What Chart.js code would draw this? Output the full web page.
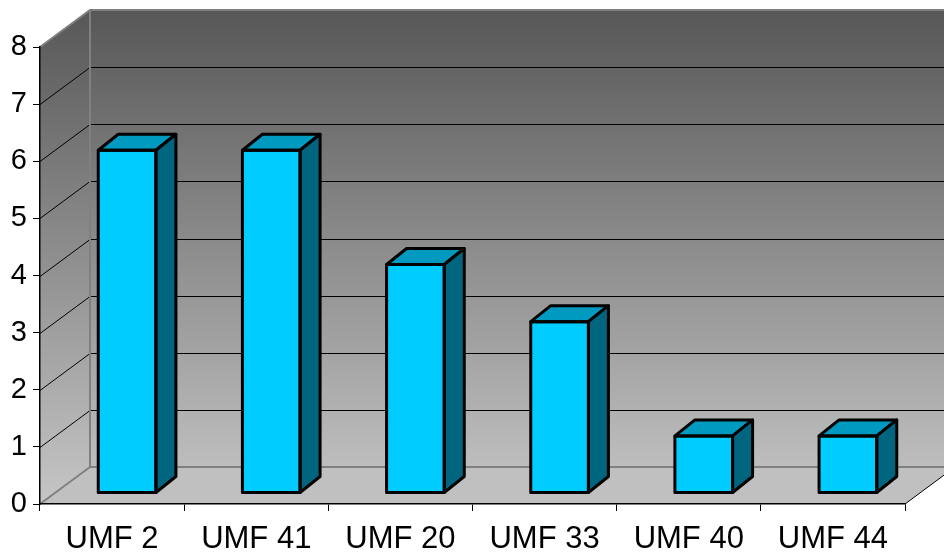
<!DOCTYPE html>
<html lang="en">
<head>
	<meta charset="utf-8">
	<title>UMF</title>
	<style>
body {
	margin: 0;
	background: #fff;
}
#chartWrapper {
	width: 944px;
	height: 555px;
}
	</style>
</head>
<body>

<div id="chartWrapper">
  <canvas id="myChart" width="944" height="555"></canvas>
</div>

<script src="https://cdn.jsdelivr.net/npm/chart.js"></script>
<script>
const categories = ['UMF 2', 'UMF 41', 'UMF 20', 'UMF 33', 'UMF 40', 'UMF 44'];
const counts = [6, 6, 4, 3, 1, 1];
const yMin = 0;
const yMax = 8;

// oblique 3d offsets (px)
const depth = {x: 50, y: -37};
const barFront = {x: 15, y: -11};
const barDepth = {x: 20, y: -16};

const walls = {
	id: 'walls',
	beforeDraw(chart) {
		const ctx = chart.ctx;
		const xs = chart.scales.x, ys = chart.scales.y;
		const L = xs.left, R = xs.right, W = chart.width;
		const y0 = ys.getPixelForValue(yMin), yTop = ys.getPixelForValue(yMax);
		const dx = depth.x, dy = depth.y;

		const grad = ctx.createLinearGradient(0, yTop + dy, 0, y0);
		grad.addColorStop(0, '#575757');
		grad.addColorStop(1, '#c6c6c6');

		ctx.save();
		// back wall
		ctx.fillStyle = grad;
		ctx.fillRect(L + dx, yTop + dy, W - L - dx, y0 - yTop);
		// left wall
		ctx.beginPath();
		ctx.moveTo(L, y0);
		ctx.lineTo(L, yTop);
		ctx.lineTo(L + dx, yTop + dy);
		ctx.lineTo(L + dx, y0 + dy);
		ctx.closePath();
		ctx.fill();
		// floor
		ctx.fillStyle = '#c0c0c0';
		ctx.beginPath();
		ctx.moveTo(L, y0);
		ctx.lineTo(R, y0);
		ctx.lineTo(R + dx, y0 + dy);
		ctx.lineTo(L + dx, y0 + dy);
		ctx.closePath();
		ctx.fill();

		// gridlines
		ctx.strokeStyle = '#000';
		ctx.lineWidth = 1;
		for (let v = yMin + 1; v < yMax; v++) {
			const y = Math.round(ys.getPixelForValue(v)) + 0.5;
			ctx.beginPath();
			ctx.moveTo(L, y);
			ctx.lineTo(L + dx, y + dy);
			ctx.lineTo(W, y + dy);
			ctx.stroke();
		}

		// wall edges
		ctx.strokeStyle = '#808080';
		ctx.lineWidth = 2;
		ctx.beginPath();
		ctx.moveTo(L, yTop);
		ctx.lineTo(L + dx, yTop + dy);
		ctx.lineTo(W, yTop + dy);
		ctx.moveTo(L + dx, yTop + dy);
		ctx.lineTo(L + dx, y0 + dy);
		ctx.lineTo(R + dx, y0 + dy);
		ctx.moveTo(L, y0);
		ctx.lineTo(L + dx, y0 + dy);
		ctx.stroke();

		ctx.strokeStyle = '#000';
		ctx.lineWidth = 1;
		ctx.beginPath();
		ctx.moveTo(R, y0);
		ctx.lineTo(R + dx, y0 + dy);
		ctx.stroke();
		ctx.restore();
	}
};

const bars3d = {
	id: 'bars3d',
	beforeDatasetDraw(chart) {
		chart.ctx.save();
		chart.ctx.translate(barFront.x, barFront.y);
	},
	afterDatasetDraw(chart, args) {
		const ctx = chart.ctx;
		ctx.lineWidth = 3;
		ctx.lineJoin = 'round';
		ctx.strokeStyle = '#000';
		for (let bar of args.meta.data) {
			const p = bar.getProps(['x', 'y', 'base', 'width'], true);
			const l = p.x - p.width / 2, r = p.x + p.width / 2;
			const t = p.y, b = p.base;
			// top face
			ctx.fillStyle = '#0099bf';
			ctx.beginPath();
			ctx.moveTo(l, t);
			ctx.lineTo(l + barDepth.x, t + barDepth.y);
			ctx.lineTo(r + barDepth.x, t + barDepth.y);
			ctx.lineTo(r, t);
			ctx.closePath();
			ctx.fill();
			ctx.stroke();
			// side face
			ctx.fillStyle = '#006680';
			ctx.beginPath();
			ctx.moveTo(r, t);
			ctx.lineTo(r + barDepth.x, t + barDepth.y);
			ctx.lineTo(r + barDepth.x, b + barDepth.y);
			ctx.lineTo(r, b);
			ctx.closePath();
			ctx.fill();
			ctx.stroke();
			// front outline
			ctx.strokeRect(l, t, r - l, b - t);
		}
		ctx.restore();
	}
};

const ctx = document.getElementById('myChart');

new Chart(ctx, {
	type: 'bar',
	data: {
		labels: categories,
		datasets: [{
			data: counts,
			backgroundColor: '#00ccff',
			borderWidth: 0,
			barPercentage: 0.4,
			categoryPercentage: 1,
			clip: false
		}]
	},
	options: {
		responsive: false,
		animation: false,
		devicePixelRatio: 1,
		layout: {
			padding: {top: 47, right: 39, left: 0, bottom: 0}
		},
		plugins: {
			legend: {display: false},
			tooltip: {enabled: false}
		},
		scales: {
			x: {
				afterFit(scale) { scale.height = 51; },
				grid: {
					display: true,
					offset: true,
					drawOnChartArea: false,
					drawTicks: true,
					tickLength: 7,
					color: '#000'
				},
				border: {display: true, color: '#000', width: 1.5},
				ticks: {
					color: '#000',
					padding: 10,
					maxRotation: 0,
					font: {family: "'Liberation Sans', Arial, sans-serif", size: 31}
				}
			},
			y: {
				min: yMin,
				max: yMax,
				afterFit(scale) { scale.width = 40; },
				grid: {
					display: true,
					drawOnChartArea: false,
					drawTicks: true,
					tickLength: 7,
					color: '#000'
				},
				border: {display: true, color: '#000', width: 1.5},
				ticks: {
					stepSize: 1,
					color: '#000',
					padding: 6,
					font: {family: "'Liberation Sans', Arial, sans-serif", size: 29}
				}
			}
		}
	},
	plugins: [walls, bars3d]
});
</script>
</body>
</html>
